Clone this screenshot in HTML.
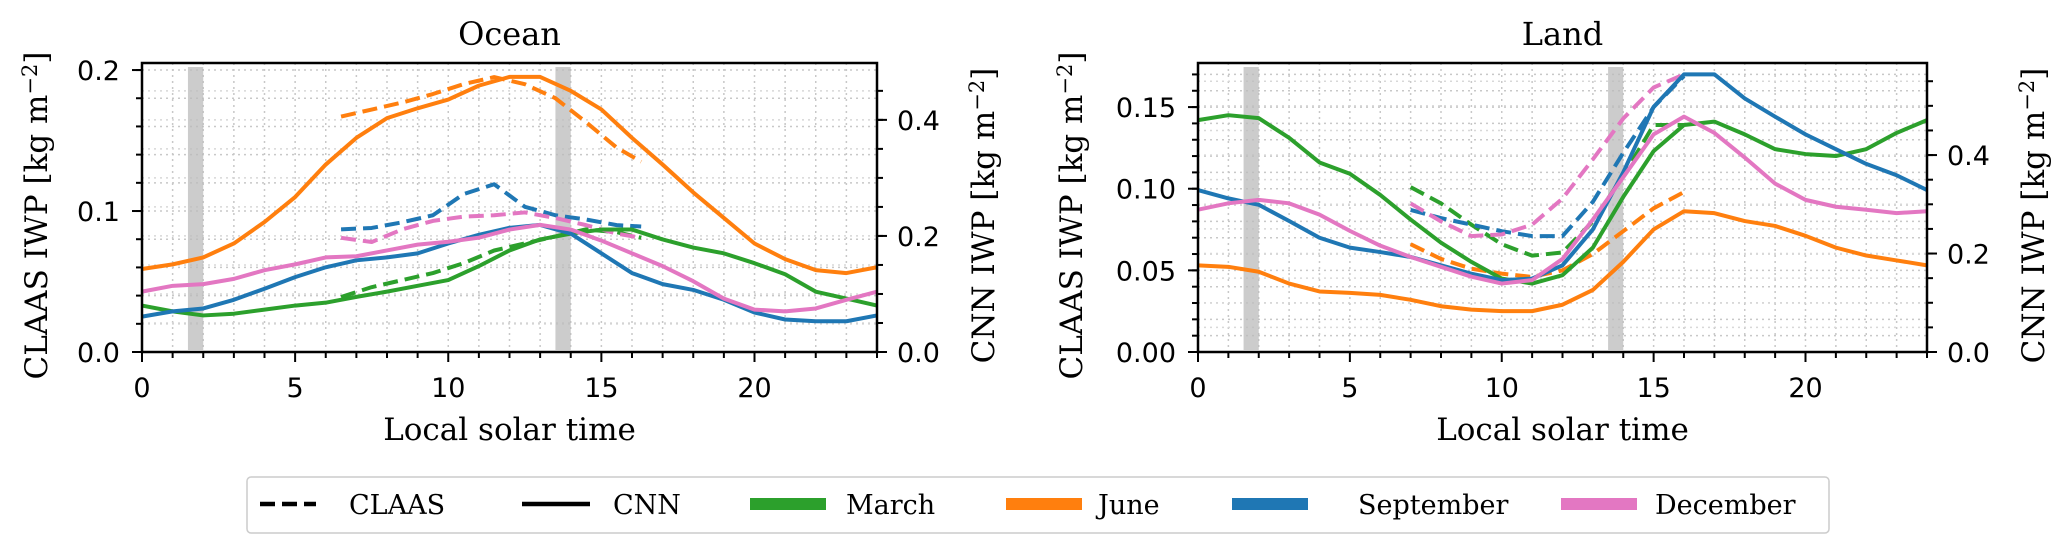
<!DOCTYPE html>
<html><head><meta charset="utf-8">
<style>
html,body{margin:0;padding:0;background:#fff;}
svg{display:block;}
text{font-family:"DejaVu Sans","Liberation Sans",sans-serif;}
.serif{font-family:"DejaVu Serif","Liberation Serif",serif;}
</style></head>
<body>
<svg id="fig" width="2067" height="552" viewBox="0 0 2067 552" xmlns="http://www.w3.org/2000/svg">
<rect width="2067" height="552" fill="#fff"/>
<g>
<rect x="247" y="477" width="1582" height="56" rx="4" fill="#fff" stroke="#ccc" stroke-width="1.5"/>
<line x1="260" y1="504" x2="316" y2="504" stroke="#000" stroke-width="4.5" stroke-dasharray="15,7"/>
<text class="serif" x="349" y="514" font-size="27">CLAAS</text>
<line x1="522" y1="504" x2="590" y2="504" stroke="#000" stroke-width="4.5"/>
<text class="serif" x="613" y="514" font-size="27">CNN</text>
<rect x="750" y="498" width="76" height="12" fill="#2ca02c"/>
<text class="serif" x="846" y="514" font-size="27">March</text>
<rect x="1006" y="498" width="76" height="12" fill="#ff7f0e"/>
<text class="serif" x="1098" y="514" font-size="27">June</text>
<rect x="1232" y="498" width="76" height="12" fill="#1f77b4"/>
<text class="serif" x="1358" y="514" font-size="27">September</text>
<rect x="1561" y="498" width="76" height="12" fill="#e377c2"/>
<text class="serif" x="1655" y="514" font-size="27">December</text>
</g>
</svg>
<script>
// ---- Ocean data ----
const hoursCNN = [0,1,2,3,4,5,6,7,8,9,10,11,12,13,14,15,16,17,18,19,20,21,22,23,24];
const oceanHoursCLAAS = [6.5,7.5,8.5,9.5,10.5,11.5,12.5,13.5,14.5,15.5,16.3];
const oceanCNNMarch = [.080,.070,.063,.066,.073,.080,.085,.095,.104,.114,.124,.148,.175,.194,.204,.211,.211,.194,.180,.170,.153,.134,.104,.092,.080];
const oceanCNNJune = [.143,.151,.163,.187,.224,.267,.323,.369,.403,.420,.435,.459,.474,.474,.450,.418,.369,.323,.275,.231,.187,.160,.141,.136,.146];
const oceanCNNSeptember = [.061,.070,.075,.090,.109,.129,.146,.158,.163,.170,.187,.202,.214,.219,.204,.170,.136,.117,.107,.090,.068,.056,.053,.053,.063];
const oceanCNNDecember = [.104,.114,.117,.126,.141,.151,.163,.165,.175,.185,.190,.197,.211,.219,.211,.192,.170,.148,.122,.092,.073,.070,.075,.090,.104];
const oceanCLAASMarch = [.039,.046,.051,.056,.063,.072,.077,.082,.087,.085,.081];
const oceanCLAASJune = [.167,.172,.177,.183,.190,.195,.190,.180,.163,.145,.135];
const oceanCLAASSeptember = [.087,.088,.092,.097,.112,.119,.103,.097,.094,.090,.089];
const oceanCLAASDecember = [.081,.078,.087,.093,.096,.097,.099,.095,.090,.084,.081];
const oceanLeftTicks = [0.0,0.1,0.2];
const oceanLeftTickLabels = ["0.0","0.1","0.2"];
const oceanRightTicks = [0.0,0.2,0.4];
const oceanRightTickLabels = ["0.0","0.2","0.4"];
// ---- Land data ----
const landHoursCLAAS = [7,8,9,10,11,12,13,14,15,16];
const landCNNMarch = [.471,.481,.475,.435,.385,.362,.319,.269,.222,.183,.149,.139,.156,.212,.315,.408,.461,.468,.442,.412,.402,.398,.412,.445,.471];
const landCNNJune = [.176,.173,.163,.139,.123,.120,.116,.106,.093,.086,.083,.083,.096,.126,.183,.249,.286,.282,.266,.256,.236,.212,.196,.186,.176];
const landCNNSeptember = [.329,.312,.299,.266,.232,.212,.203,.193,.176,.159,.146,.149,.176,.249,.365,.498,.564,.564,.515,.478,.442,.412,.382,.359,.329];
const landCNNDecember = [.289,.302,.309,.302,.279,.246,.216,.193,.173,.153,.139,.146,.189,.269,.355,.442,.478,.445,.395,.342,.309,.295,.289,.282,.286];
const landCLAASMarch = [.101,.091,.078,.066,.059,.061,.080,.108,.139,.139];
const landCLAASJune = [.066,.057,.051,.048,.046,.050,.060,.074,.088,.098];
const landCLAASSeptember = [.087,.082,.078,.074,.071,.071,.092,.122,.150,.169];
const landCLAASDecember = [.091,.080,.071,.072,.078,.094,.118,.143,.162,.170];
const landLeftTicks = [0,0.05,0.10,0.15];
const landLeftTickLabels = ["0.00","0.05","0.10","0.15"];
const landRightTicks = [0.0,0.2,0.4];
const landRightTickLabels = ["0.0","0.2","0.4"];
const xTicks = [0,5,10,15,20];
const xTickLabels = ["0","5","10","15","20"];
const shadeBands = [[1.5,2.0],[13.5,14.0]];

const NS="http://www.w3.org/2000/svg";
const svg=document.getElementById('fig');
const C={March:"#2ca02c",June:"#ff7f0e",September:"#1f77b4",December:"#e377c2"};
function mk(tag,attrs,parent){const e=document.createElementNS(NS,tag);for(const k in attrs)e.setAttribute(k,attrs[k]);(parent||svg).appendChild(e);return e;}

function panel(p){
  const g=mk('g',{});
  
  
  const X=v=>p.x0+(v/24)*(p.x1-p.x0);
  const YL=v=>p.y1-(v/p.lmax)*(p.y1-p.y0);
  const YR=v=>p.y1-(v/p.rmax)*(p.y1-p.y0);
  for(let h=1;h<24;h++){const l=mk('line',{x1:X(h),x2:X(h),y1:p.y0,y2:p.y1,stroke:"#c8c8c8","stroke-width":1.5,"stroke-dasharray":"2,4"},g);}
  for(let v=p.lminor;v<p.lmax;v+=p.lminor){const l=mk('line',{x1:p.x0,x2:p.x1,y1:YL(v),y2:YL(v),stroke:"#c8c8c8","stroke-width":1.5,"stroke-dasharray":"2,4"},g);}
  for(let v=0.05;v<p.rmax;v+=0.05){const l=mk('line',{x1:p.x0,x2:p.x1,y1:YR(v),y2:YR(v),stroke:"#d8d8d8","stroke-width":1.5,"stroke-dasharray":"2,4"},g);}
  shadeBands.forEach(b=>{const r=mk('rect',{x:X(b[0]),y:p.y0+4,width:X(b[1])-X(b[0]),height:p.y1-p.y0-6,fill:"#bbb","fill-opacity":0.75},g);});
  const mon=["March","June","September","December"];
  mon.forEach(m=>{
    const d=p['claas'+m];
    const pts=d.map((v,i)=>X(p.hc[i])+","+YL(v)).join(" ");
    const l=mk('polyline',{points:pts,fill:"none",stroke:C[m],"stroke-width":4,"stroke-dasharray":"15,7","stroke-linejoin":"round"},g);
    
    
  });
  mon.forEach(m=>{
    const d=p['cnn'+m];
    const pts=d.map((v,i)=>X(hoursCNN[i])+","+YR(v)).join(" ");
    const l=mk('polyline',{points:pts,fill:"none",stroke:C[m],"stroke-width":4,"stroke-linejoin":"round"},g);
    
    
  });
  const fr=mk('rect',{x:p.x0,y:p.y0,width:p.x1-p.x0,height:p.y1-p.y0,fill:"none",stroke:"#000","stroke-width":2.5},g);
  
  for(let h=0;h<=24;h++){mk('line',{x1:X(h),x2:X(h),y1:p.y1,y2:p.y1+(h%5==0?10:6),stroke:"#000","stroke-width":2},g);}
  xTicks.forEach((t,i)=>{const tx=mk('text',{x:X(t),y:p.y1+45,"font-size":27,"text-anchor":"middle"},g);tx.textContent=xTickLabels[i];});
  for(let v=0;v<=p.lmax+1e-9;v+=p.lminor){mk('line',{x1:p.x0-6,x2:p.x0,y1:YL(v),y2:YL(v),stroke:"#000","stroke-width":2},g);}
  p.lt.forEach((t,i)=>{mk('line',{x1:p.x0-10,x2:p.x0,y1:YL(t),y2:YL(t),stroke:"#000","stroke-width":2},g);const tx=mk('text',{x:p.x0-22,y:YL(t)+10,"font-size":27,"text-anchor":"end"},g);tx.textContent=p.ltl[i];});
  for(let v=0;v<=p.rmax+1e-9;v+=0.05){mk('line',{x1:p.x1,x2:p.x1+6,y1:YR(v),y2:YR(v),stroke:"#000","stroke-width":2},g);}
  p.rt.forEach((t,i)=>{mk('line',{x1:p.x1,x2:p.x1+10,y1:YR(t),y2:YR(t),stroke:"#000","stroke-width":2},g);const tx=mk('text',{x:p.x1+20,y:YR(t)+10,"font-size":27},g);tx.textContent=p.rtl[i];});
  const cx=(p.x0+p.x1)/2, cy=(p.y0+p.y1)/2;
  let t=mk('text',{x:cx,y:45,"font-size":32,"text-anchor":"middle",class:"serif"},g);t.textContent=p.title;
  
  t=mk('text',{x:cx,y:440,"font-size":31,"text-anchor":"middle",class:"serif"},g);t.textContent="Local solar time";
  
  t=mk('text',{x:0,y:0,"font-size":31,"text-anchor":"middle",class:"serif",transform:`translate(${p.ll},${cy+8}) rotate(-90)`},g);
  t.innerHTML='CLAAS IWP [kg m<tspan dy="-10" font-size="21">−2</tspan><tspan dy="10">]</tspan>';
  
  t=mk('text',{x:0,y:0,"font-size":31,"text-anchor":"middle",class:"serif",transform:`translate(${p.rl},${cy+8}) rotate(-90)`},g);
  t.innerHTML='CNN IWP [kg m<tspan dy="-10" font-size="21">−2</tspan><tspan dy="10">]</tspan>';
  
}
panel({key:"ocean",title:"Ocean",x0:142,x1:877,y0:63,y1:352,lmax:0.205,rmax:0.498,lminor:0.02,
  lt:oceanLeftTicks,ltl:oceanLeftTickLabels,rt:oceanRightTicks,rtl:oceanRightTickLabels,ll:47,rl:994,hc:oceanHoursCLAAS,
  cnnMarch:oceanCNNMarch,cnnJune:oceanCNNJune,cnnSeptember:oceanCNNSeptember,cnnDecember:oceanCNNDecember,
  claasMarch:oceanCLAASMarch,claasJune:oceanCLAASJune,claasSeptember:oceanCLAASSeptember,claasDecember:oceanCLAASDecember});
panel({key:"land",title:"Land",x0:1198,x1:1927,y0:63,y1:352,lmax:0.177,rmax:0.587,lminor:0.01,
  lt:landLeftTicks,ltl:landLeftTickLabels,rt:landRightTicks,rtl:landRightTickLabels,ll:1082,rl:2044,hc:landHoursCLAAS,
  cnnMarch:landCNNMarch,cnnJune:landCNNJune,cnnSeptember:landCNNSeptember,cnnDecember:landCNNDecember,
  claasMarch:landCLAASMarch,claasJune:landCLAASJune,claasSeptember:landCLAASSeptember,claasDecember:landCLAASDecember});
</script>
</body></html>
